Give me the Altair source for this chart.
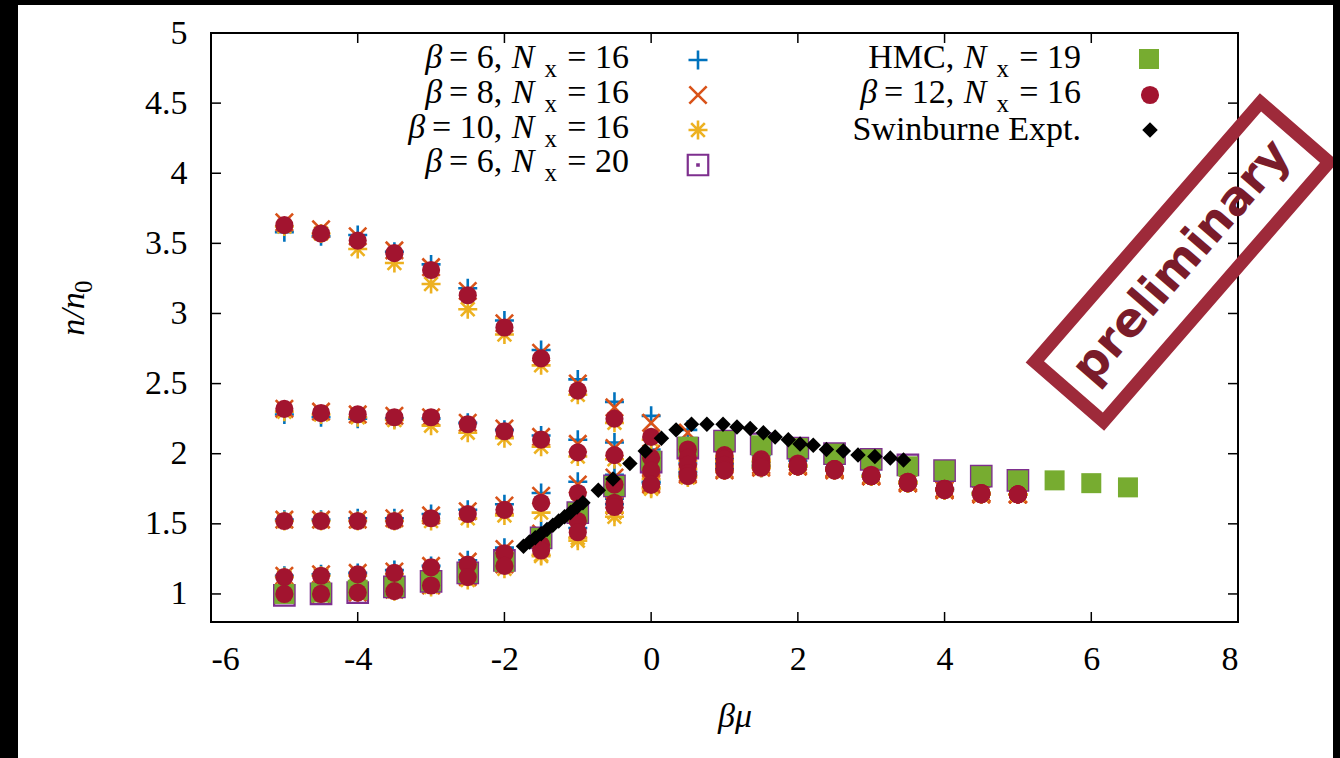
import altair as alt
import pandas as pd

# ---------------------------------------------------------------- data
# beta*mu grid of the lattice runs
BMU = [-5.0, -4.5, -4.0, -3.5, -3.0, -2.5, -2.0, -1.5, -1.0, -0.5, 0.0,
       0.5, 1.0, 1.5, 2.0, 2.5, 3.0, 3.5, 4.0, 4.5, 5.0]
BMU_HMC = BMU + [5.5, 6.0, 6.5]

# n/n0, five coupling branches per lattice run
BETA6_NX16 = [
    [3.58, 3.55, 3.56, 3.44, 3.35, 3.18, 2.95, 2.74, 2.53, 2.37, 2.27, 2.17, 2.05, 1.99, 1.95, 1.90, 1.85, 1.80, 1.75, 1.72, 1.71],
    [2.28, 2.26, 2.25, 2.25, 2.25, 2.22, 2.17, 2.13, 2.10, 2.08, 2.03, 1.99, 1.97, 1.94, 1.92, 1.89, 1.84, 1.80, 1.75, 1.72, 1.71],
    [1.53, 1.53, 1.54, 1.54, 1.57, 1.60, 1.64, 1.72, 1.80, 1.85, 1.93, 1.93, 1.93, 1.92, 1.91, 1.89, 1.84, 1.79, 1.75, 1.72, 1.71],
    [1.13, 1.14, 1.15, 1.17, 1.20, 1.24, 1.33, 1.45, 1.58, 1.68, 1.80, 1.87, 1.89, 1.91, 1.91, 1.89, 1.84, 1.79, 1.74, 1.71, 1.71],
    [1.00, 1.00, 1.02, 1.03, 1.07, 1.13, 1.22, 1.34, 1.47, 1.64, 1.79, 1.85, 1.88, 1.90, 1.91, 1.88, 1.84, 1.79, 1.74, 1.71, 1.71],
]
BETA8_NX16 = [
    [3.65, 3.60, 3.55, 3.45, 3.33, 3.16, 2.93, 2.72, 2.50, 2.33, 2.22, 2.15, 2.03, 1.98, 1.94, 1.90, 1.85, 1.80, 1.75, 1.72, 1.71],
    [2.32, 2.30, 2.28, 2.27, 2.26, 2.22, 2.18, 2.12, 2.07, 2.04, 2.00, 1.98, 1.96, 1.94, 1.92, 1.89, 1.84, 1.80, 1.75, 1.72, 1.71],
    [1.53, 1.53, 1.53, 1.54, 1.56, 1.59, 1.63, 1.70, 1.78, 1.83, 1.91, 1.92, 1.92, 1.92, 1.91, 1.89, 1.84, 1.79, 1.75, 1.72, 1.71],
    [1.13, 1.14, 1.15, 1.16, 1.20, 1.23, 1.32, 1.43, 1.56, 1.67, 1.79, 1.86, 1.89, 1.91, 1.91, 1.89, 1.84, 1.79, 1.74, 1.71, 1.71],
    [1.00, 1.00, 1.01, 1.03, 1.06, 1.12, 1.21, 1.33, 1.46, 1.63, 1.78, 1.85, 1.88, 1.90, 1.91, 1.88, 1.84, 1.79, 1.74, 1.71, 1.71],
]
BETA10_NX16 = [
    [3.62, 3.57, 3.46, 3.36, 3.21, 3.03, 2.85, 2.63, 2.42, 2.22, 2.10, 2.02, 1.98, 1.95, 1.92, 1.89, 1.84, 1.80, 1.75, 1.72, 1.71],
    [2.30, 2.28, 2.26, 2.24, 2.20, 2.15, 2.11, 2.05, 1.98, 1.96, 1.95, 1.95, 1.95, 1.94, 1.92, 1.89, 1.84, 1.80, 1.75, 1.72, 1.71],
    [1.52, 1.52, 1.52, 1.52, 1.52, 1.54, 1.56, 1.58, 1.64, 1.72, 1.82, 1.89, 1.91, 1.92, 1.91, 1.89, 1.84, 1.79, 1.75, 1.72, 1.71],
    [1.12, 1.13, 1.13, 1.14, 1.16, 1.18, 1.22, 1.27, 1.38, 1.55, 1.75, 1.84, 1.88, 1.90, 1.91, 1.89, 1.84, 1.79, 1.74, 1.71, 1.71],
    [1.00, 1.00, 1.01, 1.02, 1.05, 1.10, 1.18, 1.28, 1.40, 1.58, 1.76, 1.83, 1.88, 1.90, 1.91, 1.88, 1.84, 1.79, 1.74, 1.71, 1.71],
]
BETA12_NX16 = [
    [3.63, 3.57, 3.52, 3.43, 3.31, 3.13, 2.90, 2.68, 2.45, 2.25, 2.12, 2.03, 1.99, 1.96, 1.93, 1.89, 1.85, 1.80, 1.75, 1.72, 1.71],
    [2.32, 2.29, 2.28, 2.26, 2.26, 2.21, 2.16, 2.10, 2.01, 1.99, 1.97, 1.97, 1.96, 1.94, 1.92, 1.89, 1.84, 1.80, 1.75, 1.72, 1.71],
    [1.52, 1.52, 1.52, 1.52, 1.54, 1.57, 1.60, 1.65, 1.72, 1.78, 1.88, 1.92, 1.92, 1.92, 1.91, 1.89, 1.84, 1.79, 1.75, 1.72, 1.71],
    [1.12, 1.13, 1.14, 1.15, 1.19, 1.21, 1.29, 1.35, 1.52, 1.65, 1.78, 1.86, 1.89, 1.91, 1.91, 1.89, 1.84, 1.79, 1.74, 1.71, 1.71],
    [1.00, 1.00, 1.01, 1.02, 1.06, 1.12, 1.20, 1.31, 1.44, 1.62, 1.78, 1.84, 1.88, 1.90, 1.91, 1.88, 1.84, 1.79, 1.74, 1.71, 1.71],
]
BETA6_NX20 = [0.99, 1.00, 1.01, 1.05, 1.09, 1.15, 1.24, 1.40, 1.58, 1.77, 1.94,
              2.04, 2.09, 2.07, 2.04, 2.00, 1.96, 1.92, 1.88, 1.84, 1.81]
HMC_NX19 = [1.00, 1.01, 1.03, 1.05, 1.09, 1.15, 1.23, 1.40, 1.58, 1.77, 1.95,
            2.05, 2.09, 2.06, 2.04, 2.00, 1.96, 1.91, 1.88, 1.84, 1.81, 1.81, 1.79, 1.76]

EXPT_BMU = [-1.74, -1.66, -1.58, -1.50, -1.42, -1.34, -1.26, -1.18, -1.10, -1.01, -0.93,
            -0.72, -0.52, -0.29, -0.08, 0.14, 0.34, 0.55, 0.76, 0.98, 1.17, 1.35, 1.53,
            1.69, 1.87, 2.03, 2.21, 2.39, 2.62, 2.82, 3.05, 3.26, 3.44]
EXPT_N = [1.34, 1.37, 1.40, 1.43, 1.46, 1.49, 1.52, 1.55, 1.58, 1.62, 1.65,
          1.74, 1.82, 1.93, 2.02, 2.11, 2.17, 2.21, 2.21, 2.21, 2.19, 2.18, 2.15,
          2.12, 2.10, 2.07, 2.06, 2.03, 2.02, 1.99, 1.98, 1.97, 1.955]

X_TICKS = [-6, -4, -2, 0, 2, 4, 6, 8]
Y_TICKS = [1, 1.5, 2, 2.5, 3, 3.5, 4, 4.5, 5]

# ---------------------------------------------------------------- layout
W, H = 1340, 758
OX, OY = 211, 33          # plot origin on the page
PW, PH = 1027, 589        # plot area
FS, SUB = 34, 25          # main / subscript font size
SERIF = "Liberation Serif, Times New Roman, Times, serif"

BLUE, ORANGE, YELLOW = "#0072bd", "#d95319", "#edb120"
PURPLE, GREEN, RED = "#7e2f8e", "#77ac30", "#a2142f"

PLUS = "M-1,0L1,0M0,-1L0,1"
CROSS = "M-1,-1L1,1M-1,1L1,-1"
STAR = "M-1,0L1,0M0,-1L0,1M-0.72,-0.72L0.72,0.72M-0.72,0.72L0.72,-0.72"
BOXDOT = "M-1,-1L1,-1L1,1L-1,1ZM-0.07,-0.07L0.07,-0.07L0.07,0.07L-0.07,0.07Z"


def branches(rows, xs):
    out = []
    for b, row in enumerate(rows):
        for x, v in zip(xs, row):
            out.append({"bmu": x, "n": v, "branch": b})
    return pd.DataFrame(out)


df_b6 = branches(BETA6_NX16, BMU)
df_b8 = branches(BETA8_NX16, BMU)
df_b10 = branches(BETA10_NX16, BMU)
df_b12 = branches(BETA12_NX16, BMU)
df_b6n20 = pd.DataFrame({"bmu": BMU, "n": BETA6_NX20})
df_hmc = pd.DataFrame({"bmu": BMU_HMC, "n": HMC_NX19})
df_expt = pd.DataFrame({"bmu": EXPT_BMU, "n": EXPT_N})

axis_style = dict(ticks=False, domain=False, grid=False, title=None,
                  labelFont=SERIF, labelFontSize=FS, labelColor="black",
                  labelExpr="'' + datum.value")
xenc = alt.X("bmu:Q", scale=alt.Scale(domain=[-6, 8], nice=False, zero=False),
             axis=alt.Axis(values=X_TICKS, labelPadding=20, **axis_style))
yenc = alt.Y("n:Q", scale=alt.Scale(domain=[0.8, 5], nice=False, zero=False),
             axis=alt.Axis(values=Y_TICKS, labelPadding=24, **axis_style))


def pts(df, shape, color, size, filled=False, sw=2.6):
    kw = dict(shape=shape, size=size, opacity=1)
    if filled:
        kw.update(filled=True, color=color, strokeWidth=0)
    else:
        kw.update(filled=False, color=color, strokeWidth=sw)
    return alt.Chart(df).mark_point(**kw).encode(x=xenc, y=yenc)


layers = [
    pts(df_b6, PLUS, BLUE, 361),
    pts(df_b8, CROSS, ORANGE, 300),
    pts(df_b10, STAR, YELLOW, 361),
    pts(df_b6n20, BOXDOT, PURPLE, 420, sw=2.2),
    pts(df_hmc, "square", GREEN, 400, filled=True),
    pts(df_b12, "circle", RED, 330, filled=True),
    pts(df_expt, "diamond", "black", 240, filled=True),
]

# inward tick marks on all four sides of the frame
xt = pd.DataFrame({"bmu": X_TICKS[1:-1]})
yt = pd.DataFrame({"n": Y_TICKS[:-1]})
TL = 10
layers += [
    alt.Chart(xt).mark_rule(color="black", strokeWidth=1.5).encode(
        x=xenc, y=alt.value(PH), y2=alt.value(PH - TL)),
    alt.Chart(xt).mark_rule(color="black", strokeWidth=1.5).encode(
        x=xenc, y=alt.value(0), y2=alt.value(TL)),
    alt.Chart(yt).mark_rule(color="black", strokeWidth=1.5).encode(
        y=yenc, x=alt.value(0), x2=alt.value(TL)),
    alt.Chart(yt).mark_rule(color="black", strokeWidth=1.5).encode(
        y=yenc, x=alt.value(PW), x2=alt.value(PW - TL)),
]

# ---------------------------------------------------------------- key
RM_W = {" ": 0.25, "=": 0.564, ",": 0.25, ".": 0.25, "H": 0.722, "M": 0.889,
        "C": 0.667, "x": 0.5}
IT_W = {"β": 0.52, "N": 0.667}


def seg_w(text, style):
    size = SUB if style == "sub" else FS
    table = IT_W if style == "it" else RM_W
    return sum(table.get(c, 0.5) for c in text) * size


def key_row(segs, right, base):
    out = []
    cur = right
    for text, style in reversed(segs):
        if style == "gap":
            cur -= text * FS
            continue
        out.append({"px": cur - OX, "py": base - OY + (9 if style == "sub" else 0),
                    "text": text, "style": style})
        cur -= seg_w(text, style)
    return out


def nx_row(prefix, value):
    return [("β", "it"), (0.2, "gap"), ("= " + prefix + ",", "rm"), (0.28, "gap"),
            ("N", "it"), (0.3, "gap"), ("x", "sub"), (0.3, "gap"), ("= " + value, "rm")]


LEFT_R, RIGHT_R = 629, 1081
segs = []
segs += key_row(nx_row("6", "16"), LEFT_R, 68)
segs += key_row(nx_row("8", "16"), LEFT_R, 103)
segs += key_row(nx_row("10", "16"), LEFT_R, 138)
segs += key_row(nx_row("6", "20"), LEFT_R, 172)
segs += key_row([("HMC,", "rm"), (0.28, "gap"), ("N", "it"), (0.3, "gap"), ("x", "sub"),
                 (0.3, "gap"), ("= 19", "rm")], RIGHT_R, 68)
segs += key_row(nx_row("12", "16"), RIGHT_R, 103)
segs += key_row([("Swinburne Expt.", "rm")], RIGHT_R, 140)
# x axis title
segs.append({"px": 735 - OX, "py": 727 - OY, "text": "βμ", "style": "xtitle"})
key_df = pd.DataFrame(segs)

pxe = alt.X("px:Q", scale=None, axis=None)
pye = alt.Y("py:Q", scale=None, axis=None)


def key_text(style, size, italic, align="right"):
    d = key_df[key_df["style"] == style]
    return alt.Chart(d).mark_text(
        align=align, baseline="alphabetic", font=SERIF, fontSize=size,
        fontStyle="italic" if italic else "normal", color="black"
    ).encode(x=pxe, y=pye, text="text:N")


layers += [
    key_text("rm", FS, False),
    key_text("it", FS, True),
    key_text("sub", SUB, False),
    key_text("xtitle", FS, True, align="center"),
]

# y title n/n_0, written bottom-to-top
ytitle = pd.DataFrame([
    {"px": 84 - OX, "py": 314 - OY, "text": "n/n", "style": "it"},
    {"px": 92 - OX, "py": 293 - OY, "text": "0", "style": "sub"},
])
layers += [
    alt.Chart(ytitle[ytitle["style"] == "it"]).mark_text(
        align="center", baseline="alphabetic", angle=270, font=SERIF, fontSize=FS,
        fontStyle="italic", color="black").encode(x=pxe, y=pye, text="text:N"),
    alt.Chart(ytitle[ytitle["style"] == "sub"]).mark_text(
        align="left", baseline="alphabetic", angle=270, font=SERIF, fontSize=SUB,
        color="black").encode(x=pxe, y=pye, text="text:N"),
]

# key symbols
sym = [
    (PLUS, BLUE, 361, False, 698, 60),
    (CROSS, ORANGE, 300, False, 698, 95),
    (STAR, YELLOW, 361, False, 698, 130),
    (BOXDOT, PURPLE, 420, False, 698, 165),
    ("square", GREEN, 400, True, 1149, 59),
    ("circle", RED, 330, True, 1150, 95),
    ("diamond", "black", 240, True, 1150, 130),
]
for shape, color, size, filled, sx, sy in sym:
    kw = dict(shape=shape, size=size, opacity=1, filled=filled, color=color)
    kw["strokeWidth"] = 0 if filled else (2.2 if shape == BOXDOT else 2.6)
    layers.append(alt.Chart(pd.DataFrame({"px": [sx - OX], "py": [sy - OY]}))
                  .mark_point(**kw).encode(x=pxe, y=pye))

# "preliminary" stamp
STAMP_CX, STAMP_CY, STAMP_ANGLE = 1182, 262, 311
layers += [
    alt.Chart(pd.DataFrame({"px": [STAMP_CX - OX], "py": [STAMP_CY - OY]})).mark_point(
        shape="M-1,-0.2645L1,-0.2645L1,0.2645L-1,0.2645Z", size=344 ** 2,
        filled=False, color="#9e2a3a", strokeWidth=13, opacity=1,
        angle=STAMP_ANGLE).encode(x=pxe, y=pye),
    alt.Chart(pd.DataFrame({"px": [STAMP_CX - OX], "py": [STAMP_CY - OY],
                            "text": ["preliminary"]})).mark_text(
        align="center", baseline="middle", font="DejaVu Sans", fontWeight="bold",
        fontSize=47, color="#7a1c2a", angle=STAMP_ANGLE).encode(x=pxe, y=pye, text="text:N"),
]

# dark page edges
edges = pd.DataFrame([
    {"x0": 0, "x1": 18, "y0": 0, "y1": H},
    {"x0": 1333, "x1": W, "y0": 0, "y1": H},
    {"x0": 0, "x1": W, "y0": 0, "y1": 5},
])
edges = edges.assign(x0=edges.x0 - OX, x1=edges.x1 - OX, y0=edges.y0 - OY, y1=edges.y1 - OY)
layers.append(alt.Chart(edges).mark_rect(color="black").encode(
    x=alt.X("x0:Q", scale=None, axis=None), x2="x1:Q",
    y=alt.Y("y0:Q", scale=None, axis=None), y2="y1:Q"))

chart = alt.layer(*layers).properties(
    width=PW, height=PH,
    padding={"left": OX, "top": OY, "right": W - OX - PW, "bottom": H - OY - PH},
    autosize=alt.AutoSizeParams(type="none"),
    background="white",
).configure_view(stroke="black", strokeWidth=2).configure_axis(
    labelFont=SERIF, labelFontSize=FS, labelColor="black"
)

chart.save("out.html", embed_options={"renderer": "svg", "actions": False})
